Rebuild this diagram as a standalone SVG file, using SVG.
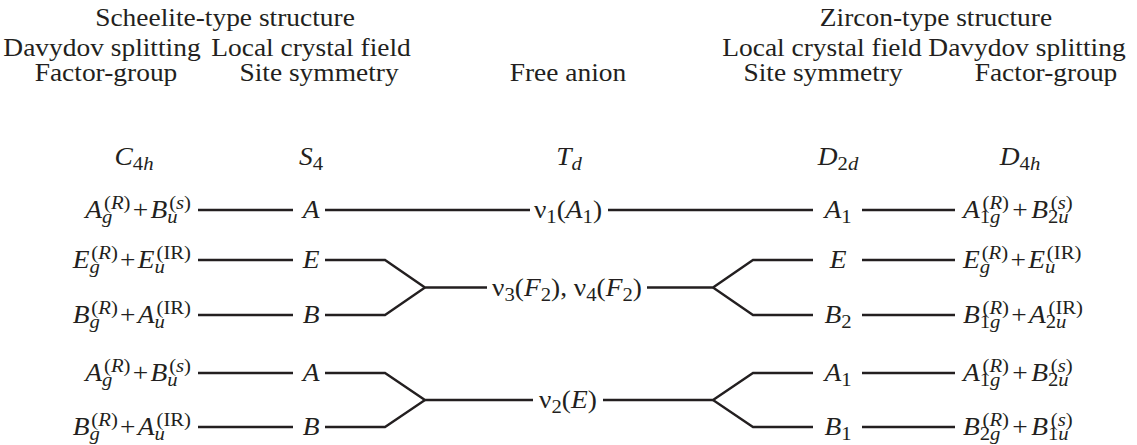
<svg xmlns="http://www.w3.org/2000/svg" width="1137" height="445" viewBox="0 0 1137 445">
<style>
text{font-family:"Liberation Serif","Times New Roman",serif;font-size:24.5px;fill:#231f20}
.i{font-style:italic}
.s{font-size:18.5px}
line,polyline{stroke:#231f20;stroke-width:2.3;fill:none;stroke-linejoin:miter}
</style>
<rect width="1137" height="445" fill="#fff"/>
<g id="headers">
<text text-anchor="middle" transform="translate(225,26) scale(1.12,1)">Scheelite-type structure</text>
<text text-anchor="middle" transform="translate(936,26) scale(1.12,1)">Zircon-type structure</text>
<text text-anchor="middle" transform="translate(102,56) scale(1.12,1)">Davydov splitting</text>
<text text-anchor="middle" transform="translate(311,56) scale(1.12,1)">Local crystal field</text>
<text text-anchor="middle" transform="translate(106,81) scale(1.12,1)">Factor-group</text>
<text text-anchor="middle" transform="translate(319,81) scale(1.12,1)">Site symmetry</text>
<text text-anchor="middle" transform="translate(568,81) scale(1.12,1)">Free anion</text>
<text text-anchor="middle" transform="translate(822,56) scale(1.12,1)">Local crystal field</text>
<text text-anchor="middle" transform="translate(1027,56) scale(1.12,1)">Davydov splitting</text>
<text text-anchor="middle" transform="translate(823,81) scale(1.12,1)">Site symmetry</text>
<text text-anchor="middle" transform="translate(1046,81) scale(1.12,1)">Factor-group</text>
<text text-anchor="middle" transform="translate(134,165) scale(1.12,1)"><tspan class="i">C</tspan><tspan class="s" dy="5">4<tspan class="i">h</tspan></tspan></text>
<text text-anchor="middle" transform="translate(311,165) scale(1.12,1)"><tspan class="i">S</tspan><tspan class="s" dy="5">4</tspan></text>
<text text-anchor="middle" transform="translate(569,165) scale(1.12,1)"><tspan class="i">T</tspan><tspan class="s i" dy="5">d</tspan></text>
<text text-anchor="middle" transform="translate(838,165) scale(1.12,1)"><tspan class="i">D</tspan><tspan class="s" dy="5">2<tspan class="i">d</tspan></tspan></text>
<text text-anchor="middle" transform="translate(1020,165) scale(1.12,1)"><tspan class="i">D</tspan><tspan class="s" dy="5">4<tspan class="i">h</tspan></tspan></text>
</g>
<g id="connectors">
<line x1="198" y1="210" x2="293" y2="210"/>
<line x1="325" y1="210" x2="530" y2="210"/>
<line x1="608" y1="210" x2="813" y2="210"/>
<line x1="862" y1="210" x2="955" y2="210"/>
<line x1="198" y1="260" x2="293" y2="260"/>
<polyline points="325,260 385,260 425,287.5 487,287.5"/>
<polyline points="325,315 385,315 425,287.5"/>
<polyline points="647,287.5 713,287.5 753,260 813,260"/>
<polyline points="713,287.5 753,315 813,315"/>
<line x1="862" y1="260" x2="955" y2="260"/>
<line x1="198" y1="315" x2="293" y2="315"/>
<line x1="862" y1="315" x2="955" y2="315"/>
<line x1="198" y1="373" x2="293" y2="373"/>
<polyline points="325,373 385,373 425,400 533,400"/>
<polyline points="325,427 385,427 425,400"/>
<polyline points="603,400 713,400 753,373 813,373"/>
<polyline points="713,400 753,427 813,427"/>
<line x1="862" y1="373" x2="955" y2="373"/>
<line x1="198" y1="427" x2="293" y2="427"/>
<line x1="862" y1="427" x2="955" y2="427"/>
</g>
<g id="scheelite-factor">
<text text-anchor="end" transform="translate(191,218) scale(1.12,1)"><tspan class="i">A</tspan><tspan class="s i" dy="5">g</tspan><tspan class="s" dx="-7.5" dy="-14.5">(<tspan class="i">R</tspan>)</tspan><tspan dx="2" dy="9.5">+</tspan><tspan class="i" dx="2">B</tspan><tspan class="s i" dy="5">u</tspan><tspan class="s" dx="-7.5" dy="-14.5">(<tspan class="i">s</tspan>)</tspan></text>
<text text-anchor="end" transform="translate(191,268) scale(1.12,1)"><tspan class="i">E</tspan><tspan class="s i" dy="5">g</tspan><tspan class="s" dx="-7.5" dy="-14.5">(<tspan class="i">R</tspan>)</tspan><tspan dx="2" dy="9.5">+</tspan><tspan class="i" dx="2">E</tspan><tspan class="s i" dy="5">u</tspan><tspan class="s" dx="-7.5" dy="-14.5">(IR)</tspan></text>
<text text-anchor="end" transform="translate(191,323) scale(1.12,1)"><tspan class="i">B</tspan><tspan class="s i" dy="5">g</tspan><tspan class="s" dx="-7.5" dy="-14.5">(<tspan class="i">R</tspan>)</tspan><tspan dx="2" dy="9.5">+</tspan><tspan class="i" dx="2">A</tspan><tspan class="s i" dy="5">u</tspan><tspan class="s" dx="-7.5" dy="-14.5">(IR)</tspan></text>
<text text-anchor="end" transform="translate(191,381) scale(1.12,1)"><tspan class="i">A</tspan><tspan class="s i" dy="5">g</tspan><tspan class="s" dx="-7.5" dy="-14.5">(<tspan class="i">R</tspan>)</tspan><tspan dx="2" dy="9.5">+</tspan><tspan class="i" dx="2">B</tspan><tspan class="s i" dy="5">u</tspan><tspan class="s" dx="-7.5" dy="-14.5">(<tspan class="i">s</tspan>)</tspan></text>
<text text-anchor="end" transform="translate(191,435) scale(1.12,1)"><tspan class="i">B</tspan><tspan class="s i" dy="5">g</tspan><tspan class="s" dx="-7.5" dy="-14.5">(<tspan class="i">R</tspan>)</tspan><tspan dx="2" dy="9.5">+</tspan><tspan class="i" dx="2">A</tspan><tspan class="s i" dy="5">u</tspan><tspan class="s" dx="-7.5" dy="-14.5">(IR)</tspan></text>
</g>
<g id="scheelite-site">
<text class="i" text-anchor="middle" transform="translate(311,218) scale(1.12,1)">A</text>
<text class="i" text-anchor="middle" transform="translate(311,268) scale(1.12,1)">E</text>
<text class="i" text-anchor="middle" transform="translate(311,323) scale(1.12,1)">B</text>
<text class="i" text-anchor="middle" transform="translate(311,381) scale(1.12,1)">A</text>
<text class="i" text-anchor="middle" transform="translate(311,435) scale(1.12,1)">B</text>
</g>
<g id="free-anion">
<text text-anchor="middle" transform="translate(568,218) scale(1.12,1)">ν<tspan class="s" dy="5">1</tspan><tspan dy="-5">(</tspan><tspan class="i">A</tspan><tspan class="s" dy="5">1</tspan><tspan dy="-5">)</tspan></text>
<text text-anchor="middle" transform="translate(567,295.5) scale(1.12,1)">ν<tspan class="s" dy="5">3</tspan><tspan dy="-5">(</tspan><tspan class="i">F</tspan><tspan class="s" dy="5">2</tspan><tspan dy="-5">), ν</tspan><tspan class="s" dy="5">4</tspan><tspan dy="-5">(</tspan><tspan class="i">F</tspan><tspan class="s" dy="5">2</tspan><tspan dy="-5">)</tspan></text>
<text text-anchor="middle" transform="translate(568,408) scale(1.12,1)">ν<tspan class="s" dy="5">2</tspan><tspan dy="-5">(</tspan><tspan class="i">E</tspan>)</text>
</g>
<g id="zircon-site">
<text text-anchor="middle" transform="translate(838,218) scale(1.12,1)"><tspan class="i">A</tspan><tspan class="s" dy="5">1</tspan></text>
<text class="i" text-anchor="middle" transform="translate(838,268) scale(1.12,1)">E</text>
<text text-anchor="middle" transform="translate(838,323) scale(1.12,1)"><tspan class="i">B</tspan><tspan class="s" dy="5">2</tspan></text>
<text text-anchor="middle" transform="translate(838,381) scale(1.12,1)"><tspan class="i">A</tspan><tspan class="s" dy="5">1</tspan></text>
<text text-anchor="middle" transform="translate(838,435) scale(1.12,1)"><tspan class="i">B</tspan><tspan class="s" dy="5">1</tspan></text>
</g>
<g id="zircon-factor">
<text transform="translate(963,218) scale(1.12,1)"><tspan class="i">A</tspan><tspan class="s" dy="5">1<tspan class="i">g</tspan></tspan><tspan class="s" dx="-16" dy="-14.5">(<tspan class="i">R</tspan>)</tspan><tspan dx="3" dy="9.5">+</tspan><tspan class="i" dx="3">B</tspan><tspan class="s" dy="5">2<tspan class="i">u</tspan></tspan><tspan class="s" dx="-16" dy="-14.5">(<tspan class="i">s</tspan>)</tspan></text>
<text transform="translate(963,268) scale(1.12,1)"><tspan class="i">E</tspan><tspan class="s i" dy="5">g</tspan><tspan class="s" dx="-7.5" dy="-14.5">(<tspan class="i">R</tspan>)</tspan><tspan dx="2" dy="9.5">+</tspan><tspan class="i" dx="2">E</tspan><tspan class="s i" dy="5">u</tspan><tspan class="s" dx="-7.5" dy="-14.5">(IR)</tspan></text>
<text transform="translate(963,323) scale(1.12,1)"><tspan class="i">B</tspan><tspan class="s" dy="5">1<tspan class="i">g</tspan></tspan><tspan class="s" dx="-16" dy="-14.5">(<tspan class="i">R</tspan>)</tspan><tspan dx="2" dy="9.5">+</tspan><tspan class="i" dx="2">A</tspan><tspan class="s" dy="5">2<tspan class="i">u</tspan></tspan><tspan class="s" dx="-16" dy="-14.5">(IR)</tspan></text>
<text transform="translate(963,381) scale(1.12,1)"><tspan class="i">A</tspan><tspan class="s" dy="5">1<tspan class="i">g</tspan></tspan><tspan class="s" dx="-16" dy="-14.5">(<tspan class="i">R</tspan>)</tspan><tspan dx="3" dy="9.5">+</tspan><tspan class="i" dx="3">B</tspan><tspan class="s" dy="5">2<tspan class="i">u</tspan></tspan><tspan class="s" dx="-16" dy="-14.5">(<tspan class="i">s</tspan>)</tspan></text>
<text transform="translate(963,435) scale(1.12,1)"><tspan class="i">B</tspan><tspan class="s" dy="5">2<tspan class="i">g</tspan></tspan><tspan class="s" dx="-16" dy="-14.5">(<tspan class="i">R</tspan>)</tspan><tspan dx="3" dy="9.5">+</tspan><tspan class="i" dx="3">B</tspan><tspan class="s" dy="5">1<tspan class="i">u</tspan></tspan><tspan class="s" dx="-16" dy="-14.5">(<tspan class="i">s</tspan>)</tspan></text>
</g>
</svg>
